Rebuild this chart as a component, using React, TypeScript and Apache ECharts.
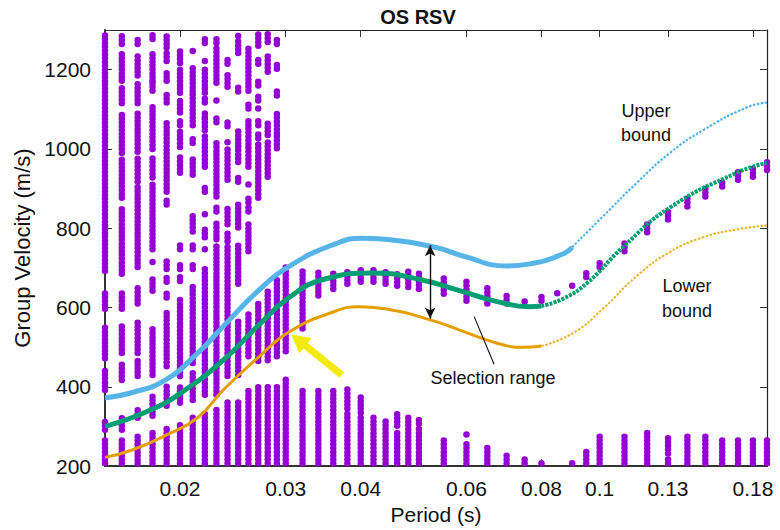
import React, { useEffect, useRef } from 'react';
import * as echarts from 'echarts';

const PURPLE = '#9400d3';
const GREEN = '#009e73';
const SKY = '#56b4e9';
const ORANGE = '#e69f00';
const YELLOW = '#f3ea0a';
const FONT = '"Liberation Sans", Arial, Helvetica, sans-serif';

// Axis ticks
const periodTicks = [0.02, 0.03, 0.04, 0.06, 0.08, 0.1, 0.13, 0.18];
const periodTickLabels = ['0.02', '0.03', '0.04', '0.06', '0.08', '0.1', '0.13', '0.18'];
const periodMin = 0.015;
const periodMax = 0.19;
const velocityMin = 200;
const velocityMax = 1300;

// Picked dispersion energy: for each period, the velocity intervals [lo, hi] where picks pile up
const shortPeriods = [0.015, 0.016, 0.017, 0.018, 0.019, 0.02, 0.021, 0.022, 0.023, 0.024, 0.025, 0.026, 0.027, 0.028, 0.029, 0.03];
const shortRanges = [
  [[207, 267], [292, 310], [392, 442], [472, 552], [597, 642], [692, 1292]],
  [[207, 267], [292, 322], [417, 455], [485, 555], [597, 642], [685, 855], [877, 980], [990, 1085], [1115, 1155], [1172, 1242], [1265, 1290]],
  [[207, 280], [322, 347], [427, 472], [485, 565], [610, 655], [702, 903], [918, 978], [993, 1093], [1115, 1165], [1185, 1235], [1265, 1280]],
  [[207, 290], [327, 377], [430, 552], [642, 677], [715, 722], [747, 910], [928, 978], [1000, 1112], [1147, 1165], [1172, 1240], [1277, 1292]],
  [[207, 297], [352, 402], [452, 592], [625, 640], [665, 677], [697, 715], [860, 872], [892, 1067], [1117, 1142], [1172, 1192], [1222, 1242], [1255, 1290]],
  [[207, 310], [360, 402], [427, 622], [667, 680], [697, 710], [747, 760], [940, 978], [1005, 1045], [1060, 1077], [1092, 1127], [1142, 1202], [1217, 1247]],
  [[207, 330], [367, 442], [460, 655], [697, 710], [747, 760], [792, 830], [935, 978], [1015, 1025], [1060, 1205], [1247, 1255]],
  [[207, 335], [380, 697], [747, 755], [777, 797], [835, 842], [892, 902], [955, 1040], [1047, 1077], [1080, 1090], [1117, 1127], [1142, 1202], [1222, 1230], [1267, 1277]],
  [[207, 347], [380, 760], [772, 785], [792, 817], [842, 852], [880, 1017], [1067, 1080], [1122, 1130], [1167, 1260], [1267, 1277]],
  [[207, 360], [427, 760], [767, 792], [810, 852], [922, 1002], [1017, 1025], [1057, 1067], [1157, 1192], [1215, 1225]],
  [[207, 365], [430, 572], [660, 760], [802, 860], [917, 927], [967, 1045], [1145, 1155], [1242, 1272], [1285, 1292]],
  [[207, 390], [477, 585], [742, 817], [842, 852], [865, 880], [910, 917], [955, 1077], [1102, 1115], [1147, 1252]],
  [[207, 402], [465, 615], [877, 1015], [1027, 1040], [1060, 1077], [1102, 1110], [1122, 1135], [1160, 1170], [1215, 1230], [1260, 1292]],
  [[207, 402], [467, 642], [930, 1017], [1035, 1067], [1195, 1237], [1270, 1292]],
  [[207, 405], [477, 677], [1002, 1090], [1135, 1147], [1202, 1215], [1265, 1277]],
  [[207, 417], [490, 700]],
];

const midPeriods = [0.032, 0.034, 0.036, 0.038, 0.04, 0.042, 0.044, 0.046, 0.048, 0.05];
const midRanges = [
  [[207, 390], [547, 697]],
  [[207, 392], [630, 692]],
  [[207, 397], [647, 692]],
  [[207, 335], [345, 392], [660, 697]],
  [[207, 325], [335, 380], [665, 702]],
  [[207, 322], [665, 702]],
  [[207, 315], [660, 697]],
  [[207, 292], [302, 330], [655, 692]],
  [[207, 322], [652, 690]],
  [[207, 297], [307, 322], [647, 685]],
];

const longPeriods = [0.055, 0.06, 0.065, 0.07, 0.075, 0.08, 0.085, 0.09, 0.095, 0.1, 0.11, 0.12, 0.13, 0.14, 0.15, 0.16, 0.17, 0.18, 0.19];
const longRanges = [
  [[207, 267], [635, 677]],
  [[207, 260], [280, 287], [617, 667]],
  [[207, 250], [610, 652]],
  [[207, 232], [610, 630]],
  [[207, 222], [615, 622]],
  [[207, 215], [617, 627]],
  [[636, 641]],
  [[207, 210], [655, 663]],
  [[207, 240], [677, 690]],
  [[207, 277], [702, 715]],
  [[207, 280], [742, 765]],
  [[207, 290], [790, 810]],
  [[207, 220], [232, 277], [822, 847]],
  [[207, 280], [855, 880]],
  [[207, 280], [880, 905]],
  [[207, 267], [905, 922]],
  [[207, 265], [922, 940]],
  [[207, 267], [930, 952]],
  [[207, 267], [947, 967]],
];

// Reference dispersion curve and its selection bounds
const curvePeriods = [0.015, 0.0179, 0.0204, 0.0236, 0.0269, 0.0305, 0.0349, 0.0418, 0.0498, 0.0592, 0.0675, 0.0765, 0.08, 0.0869, 0.0953, 0.1093, 0.1309, 0.1693, 0.19];
const curveVelocity = [300, 342, 392, 467, 552, 627, 672, 687, 672, 640, 615, 602, 604, 622, 662, 752, 852, 940, 965];

const upperPeriods = [0.015, 0.0166, 0.0189, 0.0214, 0.0236, 0.0269, 0.0305, 0.0362, 0.0402, 0.0439, 0.0532, 0.0592, 0.0701, 0.0765, 0.0869, 0.09, 0.1013, 0.1154, 0.1309, 0.1486, 0.1759, 0.19];
const upperVelocity = [372, 385, 417, 485, 552, 640, 705, 760, 775, 772, 752, 730, 705, 710, 735, 752, 830, 915, 990, 1047, 1105, 1117];

const lowerPeriods = [0.015, 0.0166, 0.0189, 0.0214, 0.0236, 0.0269, 0.0305, 0.0362, 0.0396, 0.0439, 0.0532, 0.0592, 0.0675, 0.0745, 0.08, 0.0902, 0.1013, 0.1154, 0.1309, 0.1486, 0.1693, 0.19];
const lowerVelocity = [222, 240, 277, 322, 392, 472, 540, 590, 602, 597, 565, 540, 510, 500, 503, 535, 597, 680, 740, 777, 797, 807];

// Annotation anchors (period, velocity)
const rangeArrowPeriod = 0.0522;
const rangeArrowVelocity = [757, 572];
const rangeLeader = [[0.0618, 577], [0.0667, 457]];
const yellowArrow = [[0.0372, 430], [0.0315, 518]];

const lg = (p: number) => Math.log10(p);

function segmentsFor(periods: number[], ranges: number[][][]) {
  const out: number[][] = [];
  periods.forEach((p, i) => {
    ranges[i].forEach(([lo, hi]) => out.push([lg(p), lo, hi]));
  });
  return out;
}

function curveSlice(periods: number[], vels: number[], from: number, to: number) {
  return periods
    .map((p, i) => [lg(p), vels[i]])
    .filter(([x]) => x >= lg(from) - 1e-9 && x <= lg(to) + 1e-9);
}

const pickSegments = [
  ...segmentsFor(shortPeriods, shortRanges),
  ...segmentsFor(midPeriods, midRanges),
  ...segmentsFor(longPeriods, longRanges),
];

function periodLabel(v: number) {
  const i = periodTicks.findIndex((p) => Math.abs(lg(p) - v) < 1e-6);
  return i >= 0 ? periodTickLabels[i] : '';
}

const tickLogs = periodTicks.map(lg);

function curveSeries(name: string, data: number[][], lineStyle: any, z: number, extra: any = {}) {
  return {
    type: 'line',
    name,
    data,
    smooth: 0.5,
    showSymbol: false,
    silent: true,
    lineStyle,
    z,
    ...extra,
  };
}

export default function App() {
  const ref = useRef<HTMLDivElement>(null);

  useEffect(() => {
    if (!ref.current) return;
    const chart = echarts.init(ref.current, null, { renderer: 'svg' });

    const axisFont = { fontFamily: FONT, color: '#111', fontSize: 21 };

    const option: any = {
      animation: false,
      backgroundColor: '#ffffff',
      grid: { left: 105, right: 13, top: 30, bottom: 61, containLabel: false },
      xAxis: [
        {
          type: 'value',
          position: 'bottom',
          min: lg(periodMin),
          max: lg(periodMax),
          name: 'Period (s)',
          nameLocation: 'middle',
          nameGap: 36,
          nameTextStyle: { ...axisFont, fontSize: 21 },
          axisLine: { show: true, lineStyle: { color: '#333', width: 2 } },
          axisTick: { show: true, inside: true, length: 7, customValues: tickLogs, lineStyle: { color: '#333', width: 1 } },
          axisLabel: { ...axisFont, margin: 12, customValues: tickLogs, formatter: periodLabel },
          splitLine: { show: false },
        },
        {
          type: 'value',
          position: 'top',
          min: lg(periodMin),
          max: lg(periodMax),
          axisLine: { show: true, lineStyle: { color: '#222', width: 1.2 } },
          axisTick: { show: true, inside: true, length: 7, customValues: tickLogs, lineStyle: { color: '#333', width: 1 } },
          axisLabel: { show: false },
          splitLine: { show: false },
        },
      ],
      yAxis: [
        {
          type: 'value',
          position: 'left',
          min: velocityMin,
          max: velocityMax,
          interval: 200,
          name: 'Group Velocity (m/s)',
          nameLocation: 'middle',
          nameGap: 68,
          nameTextStyle: { ...axisFont, fontSize: 22 },
          axisLine: { show: true, lineStyle: { color: '#333', width: 2 } },
          axisTick: { show: true, inside: true, length: 7, lineStyle: { color: '#333', width: 1 } },
          axisLabel: { ...axisFont, margin: 14, formatter: (v: number) => (v > 1250 ? '' : String(v)) },
          splitLine: { show: false },
        },
        {
          type: 'value',
          position: 'right',
          min: velocityMin,
          max: velocityMax,
          interval: 200,
          axisLine: { show: true, lineStyle: { color: '#222', width: 1.2 } },
          axisTick: { show: true, inside: true, length: 7, lineStyle: { color: '#333', width: 1 } },
          axisLabel: { show: false },
          splitLine: { show: false },
        },
      ],
      series: [
        {
          type: 'custom',
          name: 'picks',
          xAxisIndex: 0,
          yAxisIndex: 0,
          clip: false,
          silent: true,
          encode: { x: 0, y: [1, 2] },
          data: pickSegments,
          renderItem: (params: any, api: any) => {
            const x = api.value(0);
            const a = api.coord([x, api.value(1)]);
            const b = api.coord([x, api.value(2)]);
            return {
              type: 'line',
              shape: { x1: a[0], y1: a[1], x2: b[0], y2: b[1] - 0.5 },
              style: { stroke: PURPLE, lineWidth: 6.5, lineCap: 'round', lineDash: [0, 3.8] },
            };
          },
          z: 1,
        },
        curveSeries('upper', curveSlice(upperPeriods, upperVelocity, periodMin, 0.09), { color: SKY, width: 5 }, 3),
        curveSeries('upper-far', curveSlice(upperPeriods, upperVelocity, 0.09, periodMax), { color: SKY, width: 2.2, type: [2.5, 1.5] }, 3),
        curveSeries('lower', curveSlice(lowerPeriods, lowerVelocity, periodMin, 0.08), { color: ORANGE, width: 3 }, 3, {
          markLine: {
            silent: true,
            animation: false,
            label: { show: false },
            emphasis: { disabled: true },
            data: [
              [
                { coord: [lg(yellowArrow[0][0]), yellowArrow[0][1]], symbol: 'none', lineStyle: { color: YELLOW, width: 7, type: 'solid' } },
                { coord: [lg(yellowArrow[1][0]), yellowArrow[1][1]], symbol: 'triangle', symbolSize: [20, 18] },
              ],
            ],
          },
        }),
        curveSeries('lower-far', curveSlice(lowerPeriods, lowerVelocity, 0.08, periodMax), { color: '#e8b423', width: 2, type: [2.5, 1.5] }, 3),
        curveSeries('curve', curveSlice(curvePeriods, curveVelocity, periodMin, 0.08), { color: GREEN, width: 5 }, 4, {
          markLine: {
            silent: true,
            animation: false,
            label: { show: false },
            emphasis: { disabled: true },
            data: [
              [
                { coord: [lg(rangeArrowPeriod), rangeArrowVelocity[0]], symbol: 'arrow', symbolSize: [8, 11], lineStyle: { color: '#111', width: 1.4, type: 'solid' } },
                { coord: [lg(rangeArrowPeriod), rangeArrowVelocity[1]], symbol: 'arrow', symbolSize: [8, 11] },
              ],
              [
                { coord: [lg(rangeLeader[0][0]), rangeLeader[0][1]], symbol: 'none', lineStyle: { color: '#111', width: 1.1, type: 'solid' } },
                { coord: [lg(rangeLeader[1][0]), rangeLeader[1][1]], symbol: 'none' },
              ],
            ],
          },
        }),
        curveSeries('curve-far', curveSlice(curvePeriods, curveVelocity, 0.08, periodMax), { color: GREEN, width: 4, type: [3, 1.2] }, 4),
      ],
      graphic: [
        {
          type: 'text',
          x: 418,
          y: 17,
          style: { text: 'OS RSV', fontFamily: FONT, fontWeight: 'bold', fontSize: 20, fill: '#111', align: 'center', verticalAlign: 'middle' },
        },
        {
          type: 'text',
          x: 646,
          y: 123,
          style: { text: 'Upper\nbound', fontFamily: FONT, fontSize: 18, lineHeight: 24, fill: '#111', align: 'center', verticalAlign: 'middle' },
        },
        {
          type: 'text',
          x: 687,
          y: 298,
          style: { text: 'Lower\nbound', fontFamily: FONT, fontSize: 18, lineHeight: 25, fill: '#111', align: 'center', verticalAlign: 'middle' },
        },
        {
          type: 'text',
          x: 493,
          y: 378,
          style: { text: 'Selection range', fontFamily: FONT, fontSize: 18, fill: '#111', align: 'center', verticalAlign: 'middle' },
        },
      ],
    };

    chart.setOption(option);
    return () => chart.dispose();
  }, []);

  return <div ref={ref} style={{ position: 'fixed', left: 0, top: 0, width: 780, height: 530 }} />;
}
